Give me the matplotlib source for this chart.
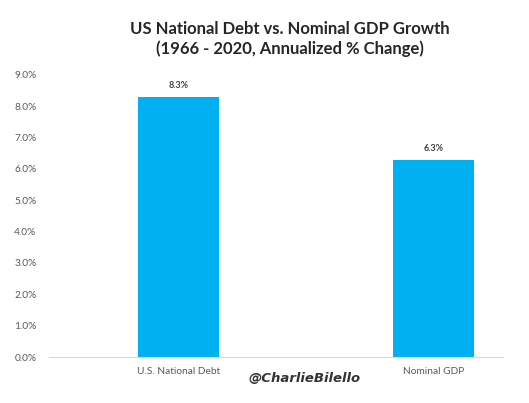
import matplotlib.pyplot as plt
from matplotlib.ticker import FuncFormatter

categories = ["U.S. National Debt", "Nominal GDP"]
growth = [8.3, 6.3]
yticks = [0, 1, 2, 3, 4, 5, 6, 7, 8, 9]

fig = plt.figure(figsize=(5.29, 4.03), dpi=100)
ax = fig.add_axes([0.0926, 0.1141, 0.858, 0.70])

x = list(range(len(categories)))
bars = ax.bar(x, growth, width=0.316, color="#00B0F0")
for b, v in zip(bars, growth):
    ax.text(b.get_x() + b.get_width() / 2, v + 0.22, "{:.1f}%".format(v),
            ha="center", va="bottom", fontsize=6.5, fontweight="bold",
            family="Lato", color="#404040")

ax.set_xlim(-0.506, 1.27)
ax.set_ylim(0, 9)
ax.set_yticks(yticks)
ax.yaxis.set_major_formatter(FuncFormatter(lambda v, p: "{:.1f}%".format(v)))
ax.set_xticks(x)
ax.set_xticklabels(categories)
ax.tick_params(axis="both", length=0, labelsize=7.3, colors="#595959")
ax.tick_params(axis="y", pad=9)
ax.tick_params(axis="x", pad=7)
for lab in ax.get_xticklabels() + ax.get_yticklabels():
    lab.set_family("Lato")

for s in ["top", "right", "left"]:
    ax.spines[s].set_visible(False)
ax.spines["bottom"].set_color("#d9d9d9")

fig.text(0.548, 0.903, "US National Debt vs. Nominal GDP Growth\n(1966 - 2020, Annualized % Change)",
         ha="center", va="center", fontsize=12, fontweight="bold", family="Lato",
         color="#262626", linespacing=1.3)
fig.text(0.575, 0.062, "@CharlieBilello", ha="center", va="center", fontsize=9.5,
         fontweight="bold", style="italic", family="DejaVu Sans", color="#333333")

fig.savefig("out.png", dpi=100)
